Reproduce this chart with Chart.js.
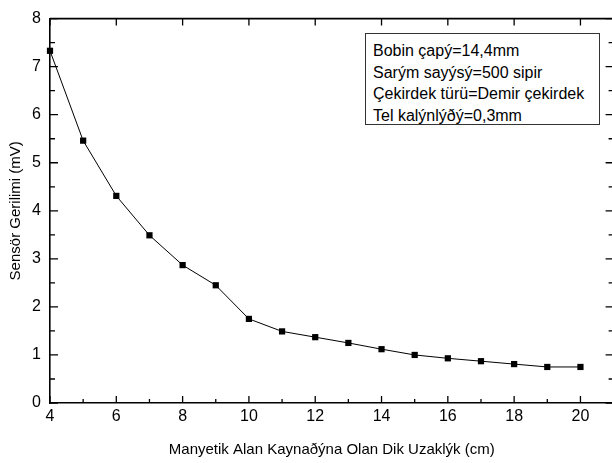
<!DOCTYPE html>
<html>
<head>
<meta charset="utf-8">
<script src="https://cdn.jsdelivr.net/npm/chart.js@4/dist/chart.umd.min.js"></script>
<style>
  html, body { margin: 0; padding: 0; background: #fff; overflow: hidden; width: 612px; height: 463px; }
  #wrap { position: relative; width: 612px; height: 463px; overflow: hidden; }
  canvas { position: absolute; left: 0; top: 0; }
  #note { position: absolute; left: 365px; top: 33px; width: 235px; height: 92px;
          border: 1px solid #333; box-sizing: border-box; background: #fff;
          font-family: "Liberation Sans", Arial, sans-serif; font-size: 16px; color: #000;
          padding: 6px 0 0 7px; line-height: 21.5px; white-space: nowrap; }
</style>
</head>
<body>
<div id="wrap">
  <canvas id="c" width="618" height="463"></canvas>
  <div id="note">
    <div>Bobin çapý=14,4mm</div>
    <div>Sarým sayýsý=500 sipir</div>
    <div>Çekirdek türü=Demir çekirdek</div>
    <div>Tel kalýnlýðý=0,3mm</div>
  </div>
</div>
<script>
const distances = [4, 5, 6, 7, 8, 9, 10, 11, 12, 13, 14, 15, 16, 17, 18, 19, 20];
const voltages  = [7.33, 5.46, 4.31, 3.49, 2.87, 2.45, 1.75, 1.49, 1.37, 1.25, 1.12, 1.00, 0.93, 0.87, 0.81, 0.75, 0.75];
const xTicks = [4, 6, 8, 10, 12, 14, 16, 18, 20];
const xMinorTicks = [5, 7, 9, 11, 13, 15, 17, 19];
const yTicks = [0, 1, 2, 3, 4, 5, 6, 7, 8];
const yMinorTicks = [0.5, 1.5, 2.5, 3.5, 4.5, 5.5, 6.5, 7.5];
const xTitle = "Manyetik Alan Kaynaðýna Olan Dik Uzaklýk (cm)";
const yTitle = "Sensör Gerilimi (mV)";

const FONT = "'Liberation Sans', Arial, sans-serif";

const frameTicks = {
  id: 'frameTicks',
  afterDraw(chart) {
    const ctx = chart.ctx;
    const a = chart.chartArea;
    const xs = chart.scales.x, ys = chart.scales.y;
    ctx.save();
    ctx.strokeStyle = '#000';
    ctx.lineWidth = 1.6;
    ctx.beginPath();
    ctx.moveTo(a.left, a.top); ctx.lineTo(a.right, a.top);
    ctx.moveTo(a.right, a.top); ctx.lineTo(a.right, a.bottom);
    ctx.stroke();
    ctx.lineWidth = 1.3;
    ctx.beginPath();
    xTicks.forEach(v => { const p = xs.getPixelForValue(v); ctx.moveTo(p, a.bottom); ctx.lineTo(p, a.bottom - 7); });
    xMinorTicks.forEach(v => { const p = xs.getPixelForValue(v); ctx.moveTo(p, a.bottom); ctx.lineTo(p, a.bottom - 4); });
    xTicks.forEach(v => { const p = xs.getPixelForValue(v); ctx.moveTo(p, a.top); ctx.lineTo(p, a.top + 7); });
    yTicks.forEach(v => { const p = ys.getPixelForValue(v); ctx.moveTo(a.left, p); ctx.lineTo(a.left + 8, p); });
    yMinorTicks.forEach(v => { const p = ys.getPixelForValue(v); ctx.moveTo(a.left, p); ctx.lineTo(a.left + 5, p); });
    yTicks.forEach(v => { const p = ys.getPixelForValue(v); ctx.moveTo(a.right, p); ctx.lineTo(a.right - 8, p); });
    yMinorTicks.forEach(v => { const p = ys.getPixelForValue(v); ctx.moveTo(a.right, p); ctx.lineTo(a.right - 5, p); });
    ctx.stroke();
    ctx.restore();
  }
};

new Chart(document.getElementById('c'), {
  type: 'line',
  data: {
    datasets: [{
      data: distances.map((d, i) => ({ x: d, y: voltages[i] })),
      borderColor: '#000',
      backgroundColor: '#000',
      borderWidth: 1,
      pointStyle: 'rect',
      pointRadius: 4.4,
      pointBorderWidth: 0,
      tension: 0,
      fill: false,
      clip: false
    }]
  },
  options: {
    responsive: false,
    animation: false,
    devicePixelRatio: 1,
    layout: { padding: { top: 13, right: 2, left: 0, bottom: 0 } },
    plugins: { legend: { display: false }, tooltip: { enabled: false } },
    scales: {
      x: {
        type: 'linear',
        min: 4, max: 21,
        afterBuildTicks: s => { s.ticks = xTicks.map(v => ({ value: v })); },
        afterFit: s => { s.height = 60; },
        grid: { display: true, drawOnChartArea: false, drawTicks: false },
        border: { display: true, color: '#000', width: 1.6 },
        ticks: { color: '#000', font: { family: FONT, size: 16 }, padding: 4, maxRotation: 0 },
        title: { display: true, text: xTitle, color: '#000', font: { family: FONT, size: 15 }, padding: { top: 0, bottom: 4 } }
      },
      y: {
        type: 'linear',
        min: 0, max: 8,
        afterBuildTicks: s => { s.ticks = yTicks.map(v => ({ value: v })); },
        afterFit: s => { s.width = 50; },
        grid: { display: true, drawOnChartArea: false, drawTicks: false },
        border: { display: true, color: '#000', width: 1.6 },
        ticks: { color: '#000', font: { family: FONT, size: 16 }, padding: 9 },
        title: { display: true, text: yTitle, color: '#000', font: { family: FONT, size: 15 }, padding: { top: 7, bottom: 0 } }
      }
    }
  },
  plugins: [frameTicks]
});
</script>
</body>
</html>
